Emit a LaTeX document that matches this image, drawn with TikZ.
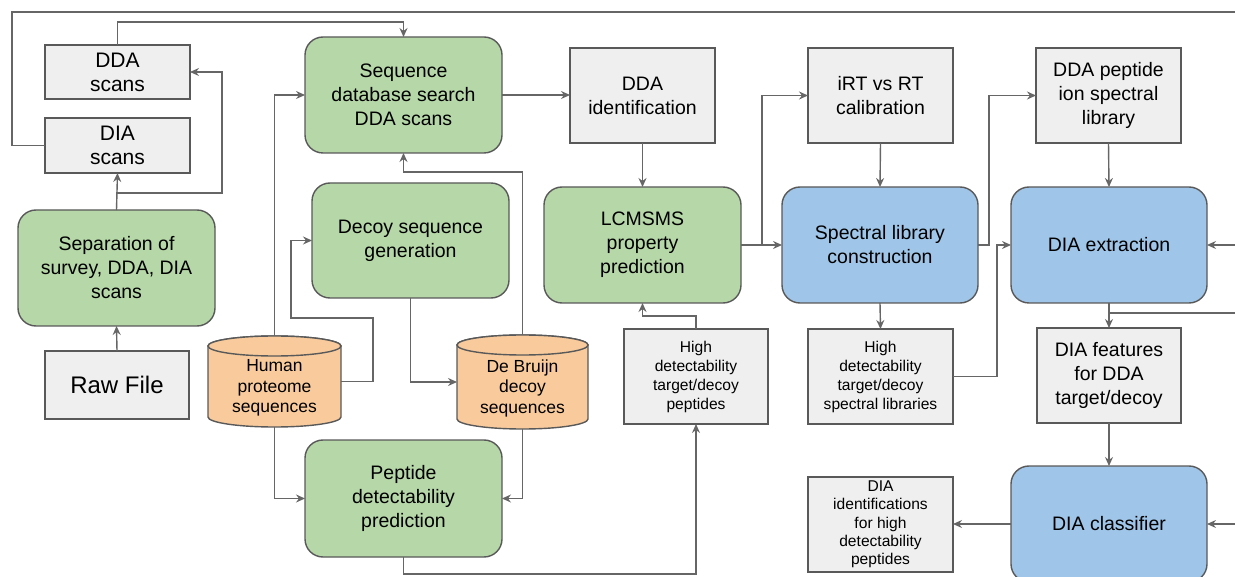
\documentclass[tikz,border=0pt]{standalone}
\usepackage{fontspec}
\setmainfont{Liberation Sans}
\usetikzlibrary{arrows.meta,calc}

\definecolor{boxgreen}{HTML}{B6D7A8}
\definecolor{boxblue}{HTML}{9FC5E8}
\definecolor{boxgray}{HTML}{EFEFEF}
\definecolor{cylorange}{HTML}{F9CB9C}
\definecolor{edgegray}{HTML}{595959}
\definecolor{wiregray}{HTML}{666666}

\tikzset{
  base/.style={draw=edgegray, line width=1.4pt, inner sep=0pt, outer sep=0pt,
               align=center, font=\fontsize{19.5}{24}\selectfont},
  proc/.style={base, rounded corners=18pt, fill=boxgreen,
               minimum width=197pt, minimum height=116pt},
  stage/.style={base, rounded corners=18pt, fill=boxblue,
               minimum width=196pt, minimum height=116pt},
  datum/.style={base, fill=boxgray, minimum width=145pt, minimum height=95pt},
  smalltext/.style={font=\fontsize{15.6}{19}\selectfont},
  scantext/.style={font=\fontsize{21}{24}\selectfont},
  drumslot/.style={inner sep=0pt, outer sep=0pt},
  drumtext/.style={inner sep=0pt, align=center, font=\fontsize{17.5}{20.5}\selectfont},
  drum/.style={draw=edgegray, line width=1.4pt, fill=cylorange},
  arr/.style={draw=wiregray, line width=1.4pt,
              -{Stealth[length=9pt,width=8pt,inset=3pt]}},
  wire/.style={draw=wiregray, line width=1.4pt},
}

\begin{document}
\begin{tikzpicture}[x=1pt, y=-1pt]
\useasboundingbox (0,0) rectangle (1235,577);
\clip (0,0) rectangle (1235,577);

% ---- input side ----
\node[datum, scantext, minimum height=54pt] (dda) at (117.5,72) {DDA\\scans};
\node[datum, scantext, minimum height=55pt] (dia) at (117.5,145.5) {DIA\\scans};
\node[proc] (sep) at (116.5,268) {Separation of\\survey, DDA, DIA\\scans};
\node[datum, minimum width=144pt, minimum height=68pt,
      font=\fontsize{24}{28}\selectfont] (raw) at (117,385) {Raw File};

% ---- sequence databases ----
\node[drumslot, minimum width=133pt, minimum height=91pt] (hp) at (274.5,381.5) {};
\draw[drum] ($(hp.north west)+(0,10)$) -- ($(hp.south west)+(0,-10)$)
  arc[start angle=180, end angle=360, x radius=66.5pt, y radius=10pt]
  -- ($(hp.north east)+(0,10)$)
  arc[start angle=0, end angle=180, x radius=66.5pt, y radius=10pt] -- cycle;
\draw[drum] ($(hp.north)+(0,10)$) ellipse[x radius=66.5pt, y radius=10pt];
\node[drumtext] (hptext) at ($(hp.center)+(0,6.5)$) {Human\\proteome\\sequences};

\node[drumslot, minimum width=131pt, minimum height=94pt] (db) at (522.5,382) {};
\draw[drum] ($(db.north west)+(0,10)$) -- ($(db.south west)+(0,-10)$)
  arc[start angle=180, end angle=360, x radius=65.5pt, y radius=10pt]
  -- ($(db.north east)+(0,10)$)
  arc[start angle=0, end angle=180, x radius=65.5pt, y radius=10pt] -- cycle;
\draw[drum] ($(db.north)+(0,10)$) ellipse[x radius=65.5pt, y radius=10pt];
\node[drumtext] (dbtext) at ($(db.center)+(0,6)$) {De Bruijn\\decoy\\sequences};

% ---- processing steps ----
\node[proc] (seq) at (403.5,95) {Sequence\\database search\\DDA scans};
\node[proc, minimum height=115pt] (dec) at (410.5,240.5) {Decoy sequence\\generation};
\node[proc, minimum height=117pt] (pep) at (403.5,498.5) {Peptide\\detectability\\prediction};

\node[datum] (ddaid) at (642.5,95.5) {DDA\\identification};
\node[proc] (lc) at (642.5,245) {LCMSMS\\property\\prediction};
\node[datum, smalltext, minimum width=144pt] (hdp) at (696,376.5)
  {High\\detectability\\target/decoy\\peptides};

\node[datum] (irt) at (880.5,95.5) {iRT vs RT\\calibration};
\node[stage] (spec) at (880,245) {Spectral library\\construction};
\node[datum, smalltext] (hds) at (880.5,376.5)
  {High\\detectability\\target/decoy\\spectral libraries};

\node[datum] (ddapep) at (1108.5,95.5) {DDA peptide\\ion spectral\\library};
\node[stage] (diaext) at (1109,245) {DIA extraction};
\node[datum, minimum width=144pt] (feat) at (1109,375.5) {DIA features\\for DDA\\target/decoy};
\node[stage] (cls) at (1109,524) {DIA classifier};
\node[datum, smalltext, font=\fontsize{15.6}{18.3}\selectfont] (diaid) at (880.5,524.5)
  {DIA\\identifications\\for high\\detectability\\peptides};

% ---- connectors: input side ----
\draw[arr] (raw.north) -- (sep.south);
\draw[arr] (sep.north) -- (dia.south);
\coordinate (splitup) at (222,193);
\draw[arr] (sep.north) |- (splitup) |- (dda.east);
\draw[arr] (dda.north) |- ($(seq.north)+(0,-15)$) -- (seq.north);
\coordinate (loopcorner) at (12,12);
\coordinate (loopright) at (1250,12);
\draw[arr] (dia.west) -| (loopcorner) -- (loopright) |- (diaext.east);

% ---- connectors: databases ----
\draw[arr] (hp.north) |- (seq.west);
\coordinate (hpturn) at (373,318);
\draw[arr] (hp.east) -| (hpturn) -| ($(dec.west)+(-21,0)$) -- (dec.west);
\draw[arr] (dec.south) |- (db.west);
\draw[arr] (db.north) |- ($(seq.south)+(0,19)$) -- (seq.south);
\draw[arr] (hp.south) |- (pep.west);
\draw[arr] (db.south) |- (pep.east);
\draw[arr] (pep.south) |- ($(hdp.south)+(0,150)$) -- (hdp.south);

% ---- connectors: library building ----
\draw[arr] (seq.east) -- (seq.east -| ddaid.west);
\draw[arr] (ddaid.south) -- (lc.north);
\draw[arr] (hdp.north) |- ($(lc.south)+(0,13)$) -- (lc.south);
\draw[arr] (lc.east) -- (lc.east -| spec.west);
\draw[arr] ($(lc.east)+(21,0)$) |- (irt.west);
\draw[arr] (irt.south) -- (spec.north);
\draw[arr] (spec.east) -- ++(11,0) |- (ddapep.west);
\draw[arr] (ddapep.south) -- (diaext.north);
\draw[arr] (spec.south) -- (hds.north);
\draw[arr] (hds.east) -| ($(diaext.west)+(-14,0)$) -- (diaext.west);

% ---- connectors: DIA side ----
\draw[arr] (diaext.south) -- (feat.north);
\coordinate (extright) at (1250,313);
\draw[arr] ($(diaext.south)+(0,10)$) -- (extright) |- (cls.east);
\draw[arr] (feat.south) -- (cls.north);
\draw[arr] (cls.west) -- (cls.west -| diaid.east);

\end{tikzpicture}
\end{document}
